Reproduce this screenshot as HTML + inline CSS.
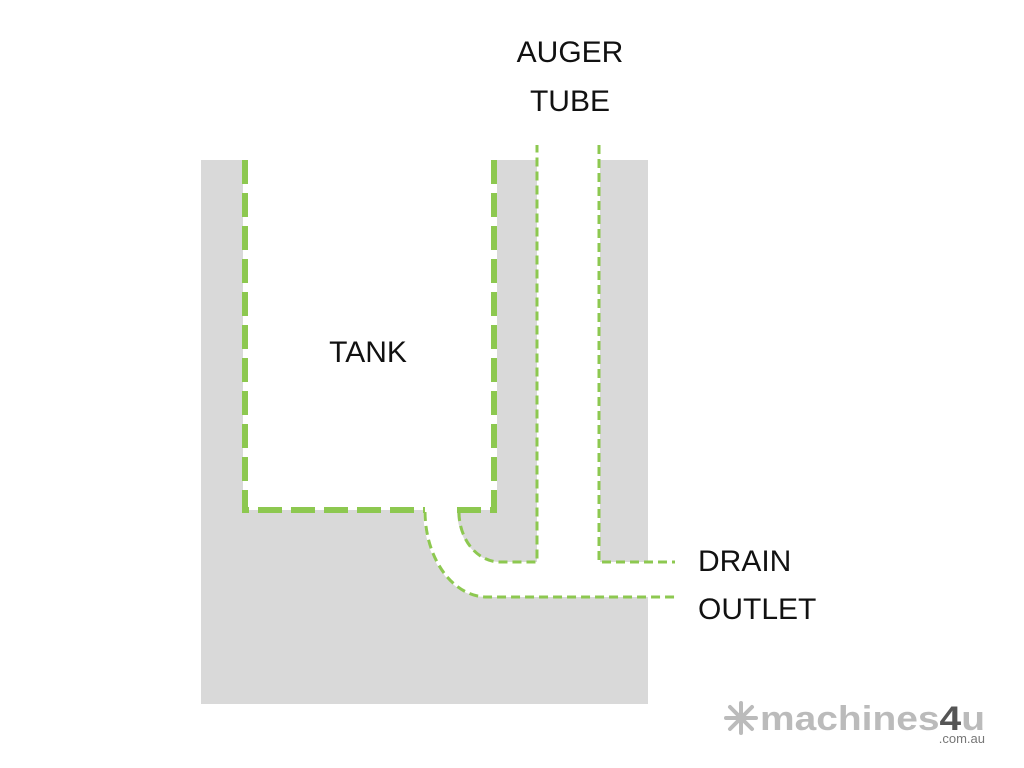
<!DOCTYPE html>
<html><head><style>
body{margin:0;background:#fff;width:1024px;height:768px;overflow:hidden;}
svg{display:block}
text{font-family:"Liberation Sans",sans-serif;}
</style></head><body>
<svg width="1024" height="768" viewBox="0 0 1024 768">
<rect x="201" y="160" width="447" height="544" fill="#d9d9d9"/>
<rect x="243" y="158" width="254" height="352" fill="#fff"/>
<path d="M423,508 A62,89 0 0 0 485,597 L680,597 L680,562 L600,562 L600,140 L537,140 L537,562 L500,562 A43,52 0 0 1 457,508 Z" fill="#fff"/>
<g fill="none" stroke="#8dc850" stroke-linecap="butt">
<path d="M245,160 L245,510 L425,510" stroke-width="6" stroke-dasharray="24,9"/>
<path d="M494,160 L494,510 L457,510" stroke-width="6" stroke-dasharray="24,9"/>
<path d="M425,512 A62,86 0 0 0 487,597 L675,597" stroke-width="3" stroke-dasharray="9,5"/>
<path d="M459,512 A41,50 0 0 0 500,562 L537,562 L537,145" stroke-width="3" stroke-dasharray="9,5"/>
<path d="M599,145 L599,562 L675,562" stroke-width="3" stroke-dasharray="9,5"/>
</g>
<g fill="#111" font-size="30">
<text x="570" y="62" text-anchor="middle">AUGER</text>
<text x="570" y="111" text-anchor="middle">TUBE</text>
<text x="368" y="362" text-anchor="middle">TANK</text>
<text x="698" y="571">DRAIN</text>
<text x="698" y="619">OUTLET</text>
</g>
<g stroke="#bbb" stroke-width="4" stroke-linecap="round">
<line x1="741" y1="703" x2="741" y2="733"/><line x1="726" y1="718" x2="756" y2="718"/>
<line x1="730" y1="707" x2="752" y2="729"/><line x1="752" y1="707" x2="730" y2="729"/>
</g>
<text x="760" y="730" font-size="34" font-weight="bold" fill="#bbb" textLength="225" lengthAdjust="spacingAndGlyphs">machines<tspan fill="#555">4</tspan>u</text>
<text x="985" y="743" font-size="13" fill="#777" text-anchor="end">.com.au</text>
</svg>
</body></html>
